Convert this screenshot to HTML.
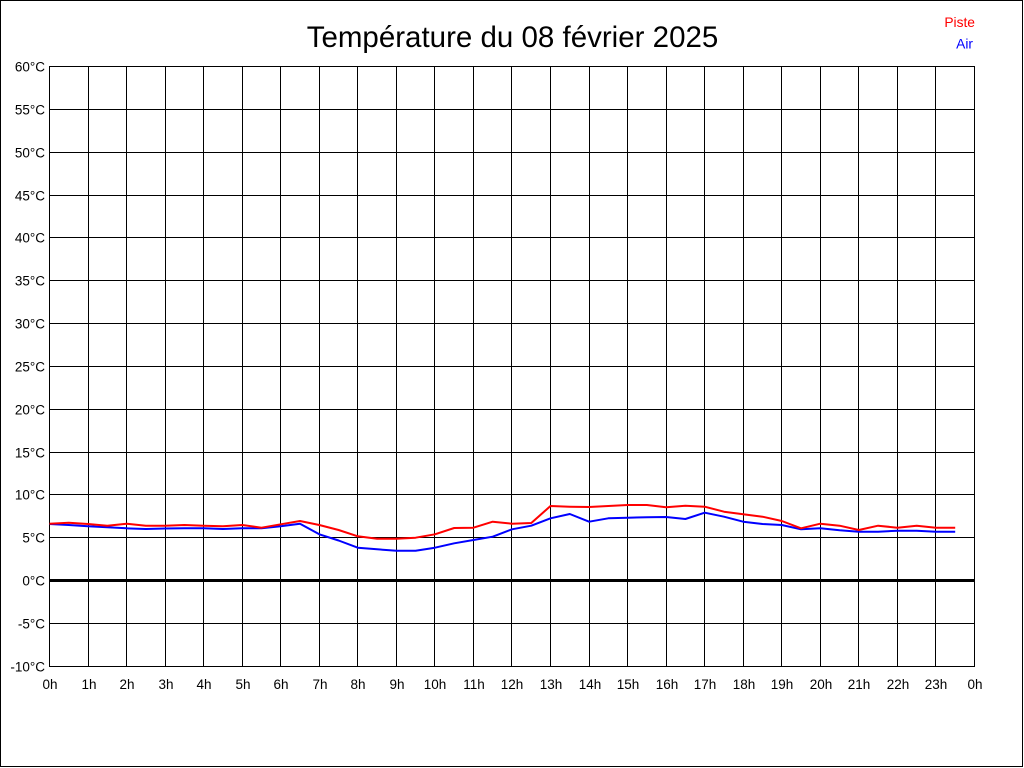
<!DOCTYPE html>
<html>
<head>
<meta charset="utf-8">
<style>
html,body{margin:0;padding:0;background:#fff;}
svg{display:block;}
text{font-family:"Liberation Sans",Arial,sans-serif;}
</style>
</head>
<body>
<svg width="1024" height="768" viewBox="0 0 1024 768" xmlns="http://www.w3.org/2000/svg">
<rect x="0" y="0" width="1024" height="768" fill="#fff"/>
<rect x="0.5" y="0.5" width="1022" height="766" fill="none" stroke="#000" stroke-width="1"/>
<text x="512.5" y="47" font-size="29.5" text-anchor="middle" fill="#000">Température du 08 février 2025</text>
<text x="975" y="27" font-size="13.8" text-anchor="end" fill="#ff0000">Piste</text>
<text x="973" y="48.5" font-size="13.8" text-anchor="end" fill="#0000ff">Air</text>
<g stroke="#000" stroke-width="1" fill="none" shape-rendering="crispEdges">
<line x1="49.5" y1="66" x2="49.5" y2="667"/>
<line x1="88.5" y1="66" x2="88.5" y2="667"/>
<line x1="126.5" y1="66" x2="126.5" y2="667"/>
<line x1="165.5" y1="66" x2="165.5" y2="667"/>
<line x1="203.5" y1="66" x2="203.5" y2="667"/>
<line x1="242.5" y1="66" x2="242.5" y2="667"/>
<line x1="280.5" y1="66" x2="280.5" y2="667"/>
<line x1="319.5" y1="66" x2="319.5" y2="667"/>
<line x1="357.5" y1="66" x2="357.5" y2="667"/>
<line x1="396.5" y1="66" x2="396.5" y2="667"/>
<line x1="434.5" y1="66" x2="434.5" y2="667"/>
<line x1="473.5" y1="66" x2="473.5" y2="667"/>
<line x1="511.5" y1="66" x2="511.5" y2="667"/>
<line x1="550.5" y1="66" x2="550.5" y2="667"/>
<line x1="589.5" y1="66" x2="589.5" y2="667"/>
<line x1="627.5" y1="66" x2="627.5" y2="667"/>
<line x1="666.5" y1="66" x2="666.5" y2="667"/>
<line x1="704.5" y1="66" x2="704.5" y2="667"/>
<line x1="743.5" y1="66" x2="743.5" y2="667"/>
<line x1="781.5" y1="66" x2="781.5" y2="667"/>
<line x1="820.5" y1="66" x2="820.5" y2="667"/>
<line x1="858.5" y1="66" x2="858.5" y2="667"/>
<line x1="897.5" y1="66" x2="897.5" y2="667"/>
<line x1="935.5" y1="66" x2="935.5" y2="667"/>
<line x1="974.5" y1="66" x2="974.5" y2="667"/>
<line x1="49" y1="66.5" x2="975" y2="66.5"/>
<line x1="49" y1="109.5" x2="975" y2="109.5"/>
<line x1="49" y1="152.5" x2="975" y2="152.5"/>
<line x1="49" y1="195.5" x2="975" y2="195.5"/>
<line x1="49" y1="237.5" x2="975" y2="237.5"/>
<line x1="49" y1="280.5" x2="975" y2="280.5"/>
<line x1="49" y1="323.5" x2="975" y2="323.5"/>
<line x1="49" y1="366.5" x2="975" y2="366.5"/>
<line x1="49" y1="409.5" x2="975" y2="409.5"/>
<line x1="49" y1="452.5" x2="975" y2="452.5"/>
<line x1="49" y1="494.5" x2="975" y2="494.5"/>
<line x1="49" y1="537.5" x2="975" y2="537.5"/>
<line x1="49" y1="623.5" x2="975" y2="623.5"/>
<line x1="49" y1="666.5" x2="975" y2="666.5"/>
</g>
<rect x="49" y="579" width="926" height="3" fill="#000"/>
<g font-size="13.5" text-anchor="end" fill="#000">
<text x="45" y="71.5">60°C</text>
<text x="45" y="114.5">55°C</text>
<text x="45" y="157.5">50°C</text>
<text x="45" y="200.5">45°C</text>
<text x="45" y="242.5">40°C</text>
<text x="45" y="285.5">35°C</text>
<text x="45" y="328.5">30°C</text>
<text x="45" y="371.5">25°C</text>
<text x="45" y="414.5">20°C</text>
<text x="45" y="457.5">15°C</text>
<text x="45" y="499.5">10°C</text>
<text x="45" y="542.5">5°C</text>
<text x="45" y="585.5">0°C</text>
<text x="45" y="628.5">-5°C</text>
<text x="45" y="671.5">-10°C</text>
</g>
<g font-size="13.5" text-anchor="middle" fill="#000">
<text x="50" y="689">0h</text>
<text x="89" y="689">1h</text>
<text x="127" y="689">2h</text>
<text x="166" y="689">3h</text>
<text x="204" y="689">4h</text>
<text x="243" y="689">5h</text>
<text x="281" y="689">6h</text>
<text x="320" y="689">7h</text>
<text x="358" y="689">8h</text>
<text x="397" y="689">9h</text>
<text x="435" y="689">10h</text>
<text x="474" y="689">11h</text>
<text x="512" y="689">12h</text>
<text x="551" y="689">13h</text>
<text x="590" y="689">14h</text>
<text x="628" y="689">15h</text>
<text x="667" y="689">16h</text>
<text x="705" y="689">17h</text>
<text x="744" y="689">18h</text>
<text x="782" y="689">19h</text>
<text x="821" y="689">20h</text>
<text x="859" y="689">21h</text>
<text x="898" y="689">22h</text>
<text x="936" y="689">23h</text>
<text x="975" y="689">0h</text>
</g>
<polyline fill="none" stroke="#0000ff" stroke-width="2" stroke-linejoin="round" points="
49.5,524 68.8,525 88.0,526.3 107.3,527.3 126.6,528.3 145.8,529 165.1,528.5 184.4,528.3 203.7,528.3 222.9,529 242.2,528.3 261.5,528.3 280.7,526.3 300.0,523.7 319.3,534.3 338.6,540.5 357.8,547.7 377.1,549.3 396.4,550.7 415.6,550.7 434.9,547.7 454.2,543.3 473.4,540 492.7,536.7 512.0,529.3 531.3,525.7 550.5,518.3 569.8,514 589.1,521.7 608.3,518.3 627.6,517.7 646.9,517.3 666.1,517 685.4,519 704.7,512.7 724.0,516.7 743.2,521.7 762.5,524 781.8,525 801.0,529.3 820.3,528.3 839.6,530.3 858.8,531.7 878.1,531.7 897.4,530.7 916.7,530.7 935.9,531.7 955.2,531.7"/>
<polyline fill="none" stroke="#ff0000" stroke-width="2" stroke-linejoin="round" points="
49.5,523.7 68.8,522.7 88.0,524 107.3,525.7 126.6,523.7 145.8,525.7 165.1,525.7 184.4,525 203.7,525.7 222.9,526.3 242.2,525 261.5,527.7 280.7,524.3 300.0,521 319.3,525 338.6,530 357.8,536.3 377.1,538.7 396.4,538.7 415.6,537.7 434.9,534.3 454.2,528 473.4,527.7 492.7,521.7 512.0,523.7 531.3,523 550.5,506 569.8,506.7 589.1,507 608.3,506 627.6,505 646.9,505 666.1,507.3 685.4,505.7 704.7,506.7 724.0,511.7 743.2,514.3 762.5,516.7 781.8,521 801.0,528.3 820.3,523.7 839.6,525.7 858.8,530 878.1,525.7 897.4,527.7 916.7,525.7 935.9,527.7 955.2,527.7"/>
</svg>
</body>
</html>
